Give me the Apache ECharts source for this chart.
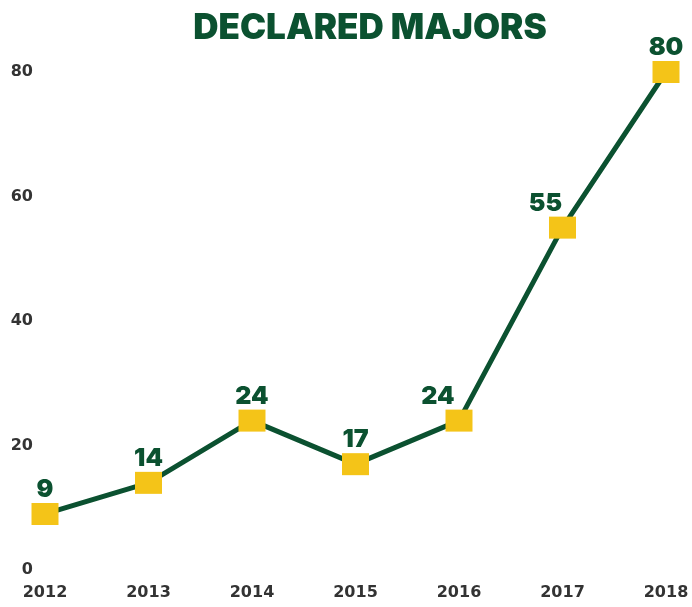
<!DOCTYPE html>
<html lang="en">

<head>
    <meta charset="UTF-8">
    <script src="https://cdn.jsdelivr.net/npm/echarts@6/dist/echarts.min.js"></script>
    <title>Declared Majors</title>
    <style>
        html, body { margin: 0; padding: 0; background: #fff; }
    </style>
</head>

<body>
    <div id="main" style="width: 692px;height: 607px;"></div>

    <script>
        var years = ['2012', '2013', '2014', '2015', '2016', '2017', '2018'];
        var majors = [9, 14, 24, 17, 24, 55, 80];
        var yTicks = [0, 20, 40, 60, 80];

        var green = '#0b5130';
        var yellow = '#f4c418';

        // a couple of labels sit left of their point in the original
        var labelShift = { '2016': [-21, 0], '2017': [-17, 0] };

        var chartDom = document.getElementById('main');
        var myChart = echarts.init(chartDom);
        var option = {
            title: {
                text: 'DECLARED MAJORS',
                left: 365,
                textAlign: 'center',
                top: 6,
                textStyle: {
                    fontFamily: 'Inter',
                    fontWeight: 900,
                    fontSize: 35,
                    color: green
                }
            },
            grid: { left: 45, right: 26, top: 72, bottom: 37 },
            xAxis: {
                type: 'category',
                data: years,
                boundaryGap: false,
                axisLine: { show: false },
                axisTick: { show: false },
                axisLabel: {
                    margin: 15,
                    fontFamily: 'DejaVu Sans',
                    fontWeight: 'bold',
                    fontSize: 16,
                    color: '#333'
                }
            },
            yAxis: {
                type: 'value',
                min: yTicks[0],
                max: yTicks[yTicks.length - 1],
                interval: 20,
                axisLine: { show: false },
                axisTick: { show: false },
                splitLine: { show: false },
                axisLabel: {
                    margin: 12,
                    fontFamily: 'DejaVu Sans',
                    fontWeight: 'bold',
                    fontSize: 16,
                    color: '#333'
                }
            },
            series: [{
                type: 'line',
                data: majors.map(function (v, i) {
                    var item = { value: v };
                    if (labelShift[years[i]]) {
                        item.label = { offset: labelShift[years[i]] };
                    }
                    return item;
                }),
                symbol: 'rect',
                symbolSize: [27, 22],
                lineStyle: { color: green, width: 5 },
                itemStyle: { color: yellow },
                label: {
                    show: true,
                    position: 'top',
                    distance: 1,
                    fontFamily: 'Inter',
                    fontWeight: 900,
                    fontSize: 25,
                    color: green
                },
                z: 3
            }]
        };
        myChart.setOption(option);
    </script>
</body>

</html>
